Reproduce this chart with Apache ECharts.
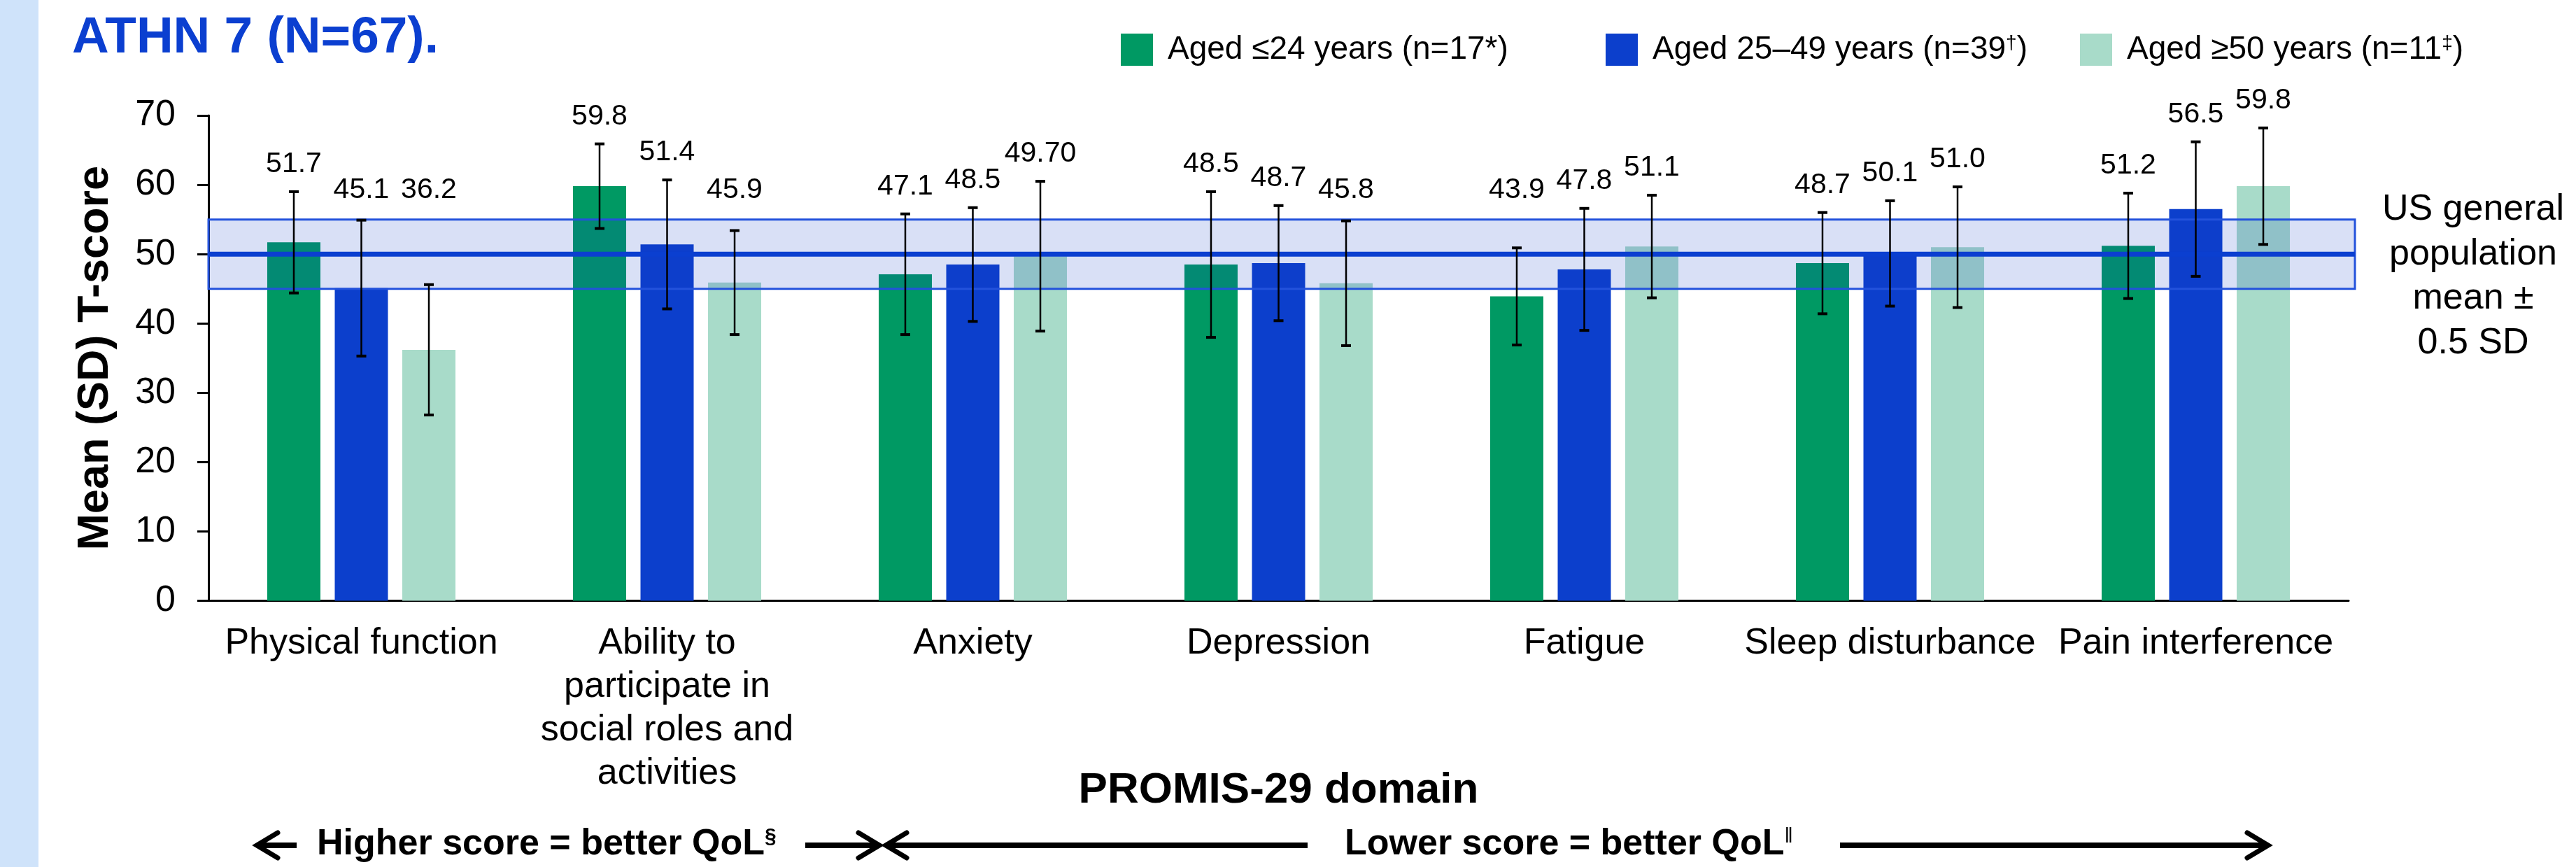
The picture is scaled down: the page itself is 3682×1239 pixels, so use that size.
<!DOCTYPE html>
<html>
<head>
<meta charset="utf-8">
<script src="https://cdn.jsdelivr.net/npm/echarts@6/dist/echarts.min.js"></script>
<style>
  html, body { margin: 0; padding: 0; background: #fff; }
  #main { width: 3682px; height: 1239px; }
</style>
</head>
<body>
<div id="main"></div>
<script>
// PROMIS-29 domains on the x axis
const domains = [
  'Physical function',
  'Ability to\nparticipate in\nsocial roles and\nactivities',
  'Anxiety',
  'Depression',
  'Fatigue',
  'Sleep disturbance',
  'Pain interference'
]
const groupNames = ['Aged ≤24 years (n=17*)', 'Aged 25–49 years (n=39†)', 'Aged ≥50 years (n=11‡)']

// mean T-scores
const youngMean = [51.7, 59.8, 47.1, 48.5, 43.9, 48.7, 51.2]
const midMean = [45.1, 51.4, 48.5, 48.7, 47.8, 50.1, 56.5]
const oldMean = [36.2, 45.9, 49.7, 45.8, 51.1, 51.0, 59.8]
// SD (error bars)
const youngSD = [7.3, 6.1, 8.7, 10.5, 7.0, 7.3, 7.6]
const midSD = [9.8, 9.3, 8.2, 8.3, 8.8, 7.6, 9.7]
const oldSD = [9.4, 7.5, 10.8, 9.0, 7.4, 8.7, 8.4]
// printed value labels
const youngText = ['51.7', '59.8', '47.1', '48.5', '43.9', '48.7', '51.2']
const midText = ['45.1', '51.4', '48.5', '48.7', '47.8', '50.1', '56.5']
const oldText = ['36.2', '45.9', '49.70', '45.8', '51.1', '51.0', '59.8']

// US general population mean ± 0.5 SD
const popMean = 50
const popLow = 45
const popHigh = 55

const yTicks = [0, 10, 20, 30, 40, 50, 60, 70]

const colors = ['#009963', '#0c3fcc', '#a8dbc9']
const FONT = '"Liberation Sans", Arial, sans-serif'
const BAR_W = 76
const BAR_GAP = 0.27

const chart = echarts.init(document.getElementById('main'))

function errorSeries(means, sds, texts, pos) {
  return {
    type: 'custom',
    z: 4,
    silent: true,
    clip: false,
    data: means.map((m, i) => [i, m, sds[i]]),
    renderItem: function (params, api) {
      const i = api.value(0)
      const m = api.value(1)
      const sd = api.value(2)
      const off = (pos - 1) * BAR_W * (1 + BAR_GAP)
      const top = api.coord([i, m + sd])
      const bot = api.coord([i, m - sd])
      const x = top[0] + off
      // label sits just above the whisker, but never lower than ~58
      const ly = api.coord([i, Math.max(m + sd + 2.8, 58.1)])[1] + 9
      const capW = 7
      const st = { stroke: '#000', lineWidth: 2.5 }
      return {
        type: 'group',
        children: [
          { type: 'line', shape: { x1: x, y1: top[1], x2: x, y2: bot[1] }, style: st },
          { type: 'line', shape: { x1: x - capW, y1: top[1], x2: x + capW, y2: top[1] }, style: { stroke: '#000', lineWidth: 4 } },
          { type: 'line', shape: { x1: x - capW, y1: bot[1], x2: x + capW, y2: bot[1] }, style: { stroke: '#000', lineWidth: 4 } },
          {
            type: 'text', x: x, y: ly,
            style: { text: texts[i], fill: '#000', font: '41px ' + FONT, align: 'center', verticalAlign: 'bottom' }
          }
        ]
      }
    }
  }
}

function barSeries(name, data, idx) {
  return {
    name: name,
    type: 'bar',
    data: data,
    barWidth: BAR_W,
    barGap: (BAR_GAP * 100) + '%',
    itemStyle: { color: colors[idx] },
    z: 2
  }
}

function legendFor(idx, left) {
  return {
    data: [groupNames[idx]],
    left: left,
    top: 43,
    itemWidth: 46,
    itemHeight: 46,
    icon: 'rect',
    selectedMode: false,
    formatter: function (n) {
      return n.replace('†', '{sup|†}').replace('‡', '{sup|‡}')
    },
    textStyle: {
      fontFamily: FONT,
      fontSize: 46,
      color: '#000',
      padding: [0, 0, 0, 16],
      rich: { sup: { fontFamily: FONT, fontSize: 28, color: '#000', verticalAlign: 'top', padding: [0, 0, 14, 0] } }
    }
  }
}

function arrow(xFrom, xTo, y) {
  // shaft from xFrom to xTo, open head at xTo
  const dir = xTo > xFrom ? 1 : -1
  const len = 30
  const half = 18
  return [
    { type: 'line', shape: { x1: xFrom, y1: y, x2: xTo - dir * 4, y2: y }, style: { stroke: '#000', lineWidth: 8 } },
    {
      type: 'polyline',
      shape: { points: [[xTo - dir * len, y - half], [xTo, y], [xTo - dir * len, y + half]] },
      style: { stroke: '#000', lineWidth: 7, fill: null, lineCap: 'round', lineJoin: 'miter' }
    }
  ]
}

const option = {
  backgroundColor: '#fff',
  animation: false,
  textStyle: { fontFamily: FONT },
  legend: [legendFor(0, 1597), legendFor(1, 2290), legendFor(2, 2968)],
  grid: { left: 298, right: 325, top: 165, bottom: 380.4, containLabel: false },
  xAxis: {
    type: 'category',
    data: domains,
    name: 'PROMIS-29 domain',
    nameLocation: 'middle',
    nameGap: 240,
    nameMoveOverlap: false,
    nameTextStyle: { fontFamily: FONT, fontSize: 62, fontWeight: 'bold', color: '#000', lineHeight: 62 },
    axisLine: { lineStyle: { color: '#000', width: 3 } },
    axisTick: { show: false },
    axisLabel: { interval: 0, margin: 30, fontFamily: FONT, fontSize: 52, lineHeight: 62, color: '#000' }
  },
  yAxis: {
    type: 'value',
    min: yTicks[0],
    max: yTicks[yTicks.length - 1],
    interval: 10,
    name: 'Mean (SD) T-score',
    nameLocation: 'middle',
    nameGap: 130,
    nameMoveOverlap: false,
    nameTextStyle: { fontFamily: FONT, fontSize: 63, fontWeight: 'bold', color: '#000' },
    axisLine: { show: true, lineStyle: { color: '#000', width: 3 } },
    axisTick: { show: true, length: 16, lineStyle: { color: '#000', width: 3 } },
    splitLine: { show: false },
    axisLabel: { margin: 47, fontFamily: FONT, fontSize: 52, color: '#000' }
  },
  series: [
    barSeries(groupNames[0], youngMean, 0),
    barSeries(groupNames[1], midMean, 1),
    barSeries(groupNames[2], oldMean, 2),
    {
      // reference band: population mean ± 0.5 SD
      type: 'custom',
      z: 3,
      silent: true,
      clip: false,
      data: [[0, popMean]],
      renderItem: function (params, api) {
        const cs = params.coordSys
        const yHi = api.coord([0, popHigh])[1]
        const yLo = api.coord([0, popLow])[1]
        const yMid = api.coord([0, popMean])[1]
        const w = cs.width + 9
        return {
          type: 'group',
          children: [
            {
              type: 'rect',
              shape: { x: cs.x, y: yHi, width: w, height: yLo - yHi },
              style: { fill: 'rgba(20,60,200,0.16)', stroke: '#2352dc', lineWidth: 3 }
            },
            {
              type: 'line',
              shape: { x1: cs.x, y1: yMid, x2: cs.x + w, y2: yMid },
              style: { stroke: '#0b3fd0', lineWidth: 7 }
            }
          ]
        }
      }
    },
    errorSeries(youngMean, youngSD, youngText, 0),
    errorSeries(midMean, midSD, midText, 1),
    errorSeries(oldMean, oldSD, oldText, 2)
  ],
  graphic: [
    { type: 'rect', left: 0, top: 0, shape: { width: 55, height: 1239 }, style: { fill: '#cfe3fa' }, silent: true },
    {
      type: 'text', x: 103, y: 55,
      style: { text: 'ATHN 7 (N=67).', fill: '#0b3fd0', font: 'bold 73px ' + FONT, align: 'left', verticalAlign: 'middle' }
    },
    {
      type: 'text', x: 3535, y: 268,
      style: {
        text: 'US general\npopulation\nmean ±\n0.5 SD', fill: '#000', font: '52px ' + FONT,
        align: 'center', verticalAlign: 'top', lineHeight: 63.5
      }
    },
    {
      type: 'text', x: 453, y: 1207,
      style: {
        text: '{b|Higher score = better QoL}{s|§}', align: 'left', verticalAlign: 'middle',
        rich: {
          b: { fontFamily: FONT, fontSize: 52, fontWeight: 'bold', fill: '#000' },
          s: { fontFamily: FONT, fontSize: 30, fontWeight: 'bold', fill: '#000', verticalAlign: 'top' }
        }
      }
    },
    {
      type: 'text', x: 1922, y: 1207,
      style: {
        text: '{b|Lower score = better QoL}{s|‖}', align: 'left', verticalAlign: 'middle',
        rich: {
          b: { fontFamily: FONT, fontSize: 52, fontWeight: 'bold', fill: '#000' },
          s: { fontFamily: FONT, fontSize: 30, fill: '#000', verticalAlign: 'top' }
        }
      }
    }
  ].concat(arrow(424, 367, 1208), arrow(1151, 1257, 1208), arrow(1869, 1266, 1208), arrow(2630, 3242, 1208))
}

chart.setOption(option)
</script>
</body>
</html>
